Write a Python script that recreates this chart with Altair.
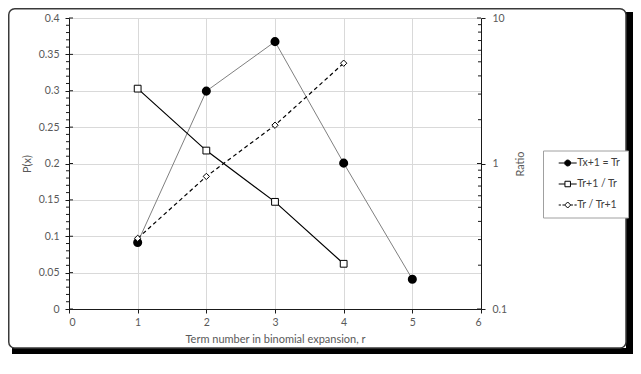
import altair as alt
import pandas as pd

# ---- data ----
r_terms = [1, 2, 3, 4, 5]
p_values = [0.0915, 0.2995, 0.3675, 0.2005, 0.041]
r_ratio = [1, 2, 3, 4]
ratio_up = [3.27, 1.227, 0.545, 0.2045]      # Tr+1 / Tr
ratio_down = [0.306, 0.815, 1.833, 4.89]     # Tr / Tr+1
series_names = ["Tx+1 = Tr", "Tr+1 / Tr", "Tr / Tr+1"]

x_ticks = [0, 1, 2, 3, 4, 5, 6]
p_ticks = [0, 0.05, 0.1, 0.15, 0.2, 0.25, 0.3, 0.35, 0.4]
p_minor = [round(i * 0.01, 2) for i in range(1, 40) if i % 5 != 0]
ratio_ticks = [0.1, 1, 10]
ratio_minor = [0.2, 0.3, 0.4, 0.5, 0.6, 0.7, 0.8, 0.9, 2, 3, 4, 5, 6, 7, 8, 9]

FONT = "Lato"
W, H = 412, 291
AX = "#1a1a1a"
LAB = "#595959"

p_df = pd.DataFrame({"r": r_terms, "p": p_values})
up_df = pd.DataFrame({"r": r_ratio, "ratio": ratio_up})
down_df = pd.DataFrame({"r": r_ratio, "ratio": ratio_down})
key_df = pd.DataFrame({"key": series_names})
pmaj_df = pd.DataFrame({"v": p_ticks})
pmin_df = pd.DataFrame({"v": p_minor})
rmaj_df = pd.DataFrame({"v": ratio_ticks})
rmin_df = pd.DataFrame({"v": ratio_minor})
one = pd.DataFrame({"a": [0]})

x_scale = alt.Scale(domain=[0, 6], nice=False, zero=False)
x_axis = alt.Axis(values=x_ticks, format="d", title="Term number in binomial expansion, r",
                  grid=True, gridColor="#d9d9d9", domainColor=AX, tickColor=AX, tickSize=4,
                  labelPadding=4, titlePadding=6, labelFont=FONT, labelFontSize=10.5,
                  labelColor=LAB, titleFont=FONT, titleFontSize=11, titleFontWeight="normal",
                  titleColor=LAB)

p_scale = alt.Scale(domain=[0, 0.4], nice=False, zero=False)
p_axis = alt.Axis(values=p_ticks, labelExpr="format(datum.value, '.2~f')", title="P(x)",
                  grid=True, gridColor="#d9d9d9", domainColor=AX, tickColor=AX, tickSize=4,
                  labelPadding=6, titlePadding=6, labelFont=FONT, labelFontSize=10.5,
                  labelColor=LAB, titleFont=FONT, titleFontSize=11, titleFontWeight="normal",
                  titleColor=LAB)

r_scale = alt.Scale(type="log", domain=[0.1, 10], nice=False)
r_axis = alt.Axis(values=ratio_ticks, labelExpr="format(datum.value, '~g')", title="Ratio",
                  orient="right", grid=False, domainColor=AX, tickColor=AX, tickSize=4,
                  labelPadding=7, titlePadding=19, titleAngle=270, labelFont=FONT,
                  labelFontSize=10.5, labelColor=LAB, titleFont=FONT, titleFontSize=11,
                  titleFontWeight="normal", titleColor=LAB)

X = alt.X("r:Q", scale=x_scale, axis=x_axis)

# ---- frame around the whole figure ----
frame_bottom = alt.Chart(one).mark_rect(color="black").encode(
    x=alt.value(-57), x2=alt.value(564), y=alt.value(330), y2=alt.value(336))
frame_right = alt.Chart(one).mark_rect(color="black").encode(
    x=alt.value(557), x2=alt.value(564), y=alt.value(-6), y2=alt.value(336))
frame_line = alt.Chart(one).mark_rect(fillOpacity=0, stroke="#3a3a3a", strokeWidth=1.5,
                                      cornerRadius=6).encode(
    x=alt.value(-60.25), x2=alt.value(557), y=alt.value(-9.25), y2=alt.value(330))

# ---- left axis group ----
p_line = alt.Chart(p_df).mark_line(color="#808080", strokeWidth=1).encode(
    x=X, y=alt.Y("p:Q", scale=p_scale, axis=p_axis))
p_pts = alt.Chart(p_df).mark_point(shape="circle", filled=True, fill="black", stroke="black",
                                   size=50, opacity=1).encode(
    x=X, y=alt.Y("p:Q", scale=p_scale, axis=p_axis))
p_minor_ticks = alt.Chart(pmin_df).mark_rule(color=AX, strokeWidth=1).encode(
    y=alt.Y("v:Q", scale=p_scale, axis=p_axis), x=alt.value(-3), x2=alt.value(0))
p_major_in = alt.Chart(pmaj_df).mark_rule(color=AX, strokeWidth=1).encode(
    y=alt.Y("v:Q", scale=p_scale, axis=p_axis), x=alt.value(0), x2=alt.value(4))

# legend symbols: line + marker drawn as one path (unit = 5 px)
circ = "M0.6,0L0.52,0.3L0.3,0.52L0,0.6L-0.3,0.52L-0.52,0.3L-0.6,0L-0.52,-0.3L-0.3,-0.52L0,-0.6L0.3,-0.52L0.52,-0.3Z"
sym_circle = "M-1.8,0H-0.6M0.6,0H1.8" + circ
sym_square = "M-1.8,0H-0.55M0.55,0H1.8M-0.55,-0.55H0.55V0.55H-0.55Z"
sym_diamond = "M-1.8,0H-1.35M-1.05,0H-0.6M0.6,0H1.05M1.35,0H1.8M0,-0.6L0.6,0L0,0.6L-0.6,0Z"

legend = alt.Legend(title=None, orient="none", legendX=474, legendY=132.5,
                    strokeColor="#a0a0a0", padding=7, symbolSize=100,
                    symbolStrokeColor="black", symbolStrokeWidth=1, symbolOffset=12.2,
                    labelOffset=4, rowPadding=10, labelFont=FONT, labelFontSize=10.5,
                    labelColor="#404040", fillColor="white")
key_layer = alt.Chart(key_df).transform_filter("false").mark_point(
    filled=True, strokeWidth=1, size=100, opacity=1).encode(
    shape=alt.Shape("key:N", scale=alt.Scale(domain=series_names,
                                             range=[sym_circle, sym_square, sym_diamond]),
                    legend=legend),
    fill=alt.Fill("key:N", scale=alt.Scale(domain=series_names,
                                           range=["black", "white", "white"]),
                  legend=legend),
    stroke=alt.Stroke("key:N", scale=alt.Scale(domain=series_names,
                                               range=["black", "black", "black"]),
                      legend=legend))

left = alt.layer(frame_bottom, frame_right, frame_line, p_minor_ticks, p_major_in,
                 p_line, p_pts, key_layer)

# ---- right axis group ----
RY = lambda f: alt.Y(f, scale=r_scale, axis=r_axis)
up_line = alt.Chart(up_df).mark_line(color="black", strokeWidth=1.2).encode(x=X, y=RY("ratio:Q"))
up_pts = alt.Chart(up_df).mark_point(shape="square", filled=True, fill="white", stroke="black",
                                     strokeWidth=1, size=46, opacity=1).encode(x=X, y=RY("ratio:Q"))
down_line = alt.Chart(down_df).mark_line(color="black", strokeWidth=1.2,
                                         strokeDash=[4, 3]).encode(x=X, y=RY("ratio:Q"))
down_pts = alt.Chart(down_df).mark_point(shape="diamond", filled=True, fill="white",
                                         stroke="black", strokeWidth=1, size=40,
                                         opacity=1).encode(x=X, y=RY("ratio:Q"))
r_minor_ticks = alt.Chart(rmin_df).mark_rule(color=AX, strokeWidth=1).encode(
    y=RY("v:Q"), x=alt.value(W - 3), x2=alt.value(W))
r_major_in = alt.Chart(rmaj_df).mark_rule(color=AX, strokeWidth=1).encode(
    y=RY("v:Q"), x=alt.value(W - 4), x2=alt.value(W))

right = alt.layer(r_minor_ticks, r_major_in, up_line, down_line, up_pts, down_pts)

chart = alt.layer(left, right).resolve_scale(y="independent").properties(
    width=W, height=H,
    padding={"left": 61, "top": 10, "right": 152, "bottom": 45},
    autosize=alt.AutoSizeParams(type="none"),
    background="white",
).configure_view(stroke=None)

chart.save("out.html", embed_options={"renderer": "svg", "actions": False})
